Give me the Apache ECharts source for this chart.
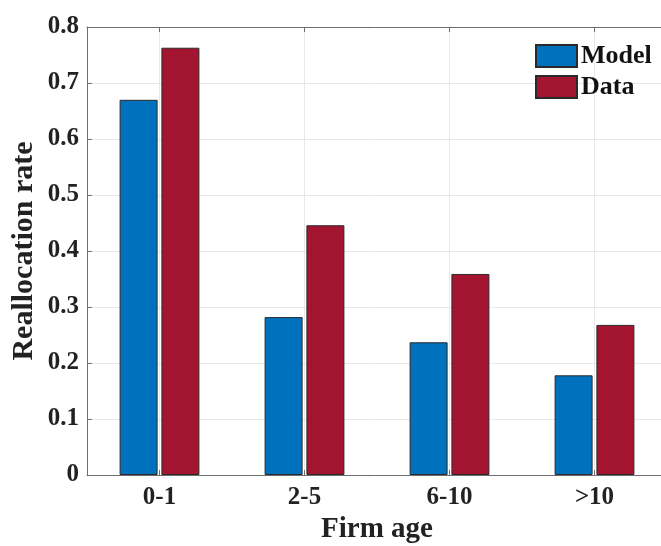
<!DOCTYPE html>
<html>
<head>
<meta charset="utf-8">
<script src="https://cdn.jsdelivr.net/npm/echarts@6/dist/echarts.min.js"></script>
<style>html,body{margin:0;padding:0;background:#fff;}#c{width:661px;height:546px;}</style>
</head>
<body>
<div id="c"></div>
<script>
const categories = ['0-1', '2-5', '6-10', '>10'];
const modelValues = [0.670, 0.282, 0.237, 0.178];
const dataValues = [0.763, 0.446, 0.359, 0.268];
const yTicks = [0, 0.1, 0.2, 0.3, 0.4, 0.5, 0.6, 0.7, 0.8];
const seriesNames = ['Model', 'Data'];
const xTitle = 'Firm age';
const yTitle = 'Reallocation rate';

const FONT = 'Liberation Serif';
const chart = echarts.init(document.getElementById('c'), null, {renderer: 'canvas'});
const axisColor = '#6e6e6e';
chart.setOption({
  animation: false,
  backgroundColor: '#fff',
  grid: {left: 87, right: -6, top: 27, bottom: 71, containLabel: false, outerBoundsMode: 'none'},
  legend: {
    data: seriesNames,
    left: 535, top: 43, orient: 'vertical', padding: 0,
    itemWidth: 41, itemHeight: 22, itemGap: 5,
    icon: 'rect',
    textStyle: {fontFamily: FONT, fontWeight: 'bold', fontSize: 26, color: '#111', padding: [0,0,0,-1]}
  },
  graphic: [{
    type: 'text', x: 24, y: 251, rotation: Math.PI/2,
    style: {text: yTitle, fontFamily: FONT, fontWeight: 'bold', fontSize: 30, fill: '#222', align: 'center', verticalAlign: 'middle'}
  }],
  xAxis: [{
    type: 'category', data: categories, position: 'bottom',
    axisLine: {show: true, lineStyle: {color: axisColor, width: 1}},
    axisTick: {show: true, inside: true, alignWithLabel: true, length: 5, lineStyle: {color: axisColor}},
    splitLine: {show: true, alignWithLabel: true, lineStyle: {color: '#e8e8e8', width: 1}},
    axisLabel: {fontFamily: FONT, fontWeight: 'bold', fontSize: 25, color: '#222', margin: 10},
    name: xTitle, nameLocation: 'middle', nameGap: 37,
    nameTextStyle: {fontFamily: FONT, fontWeight: 'bold', fontSize: 29, color: '#222'}
  }, {
    type: 'category', data: categories, position: 'top',
    axisLine: {show: true, lineStyle: {color: axisColor, width: 1}},
    axisTick: {show: true, inside: true, alignWithLabel: true, length: 5, lineStyle: {color: axisColor}},
    axisLabel: {show: false}, splitLine: {show: false}
  }],
  yAxis: [{
    type: 'value', min: 0, max: 0.8, interval: 0.1,
    axisLine: {show: true, lineStyle: {color: axisColor, width: 1}},
    axisTick: {show: true, inside: true, length: 5, lineStyle: {color: axisColor}},
    splitLine: {show: true, lineStyle: {color: '#e8e8e8', width: 1}},
    axisLabel: {fontFamily: FONT, fontWeight: 'bold', fontSize: 25, color: '#222', margin: 8,
      formatter: v => { const t = yTicks.find(x => Math.abs(x - v) < 1e-9); return t === undefined ? '' : String(t); }}
  }],
  series: [{
    name: seriesNames[0], type: 'bar', data: modelValues, barWidth: 38, barGap: '10%',
    itemStyle: {color: '#0072BD', borderColor: '#2a2a2a', borderWidth: 1}
  }, {
    name: seriesNames[1], type: 'bar', data: dataValues, barWidth: 38, barGap: '10%',
    itemStyle: {color: '#A2142F', borderColor: '#2a2a2a', borderWidth: 1}
  }]
});
</script>
</body>
</html>
